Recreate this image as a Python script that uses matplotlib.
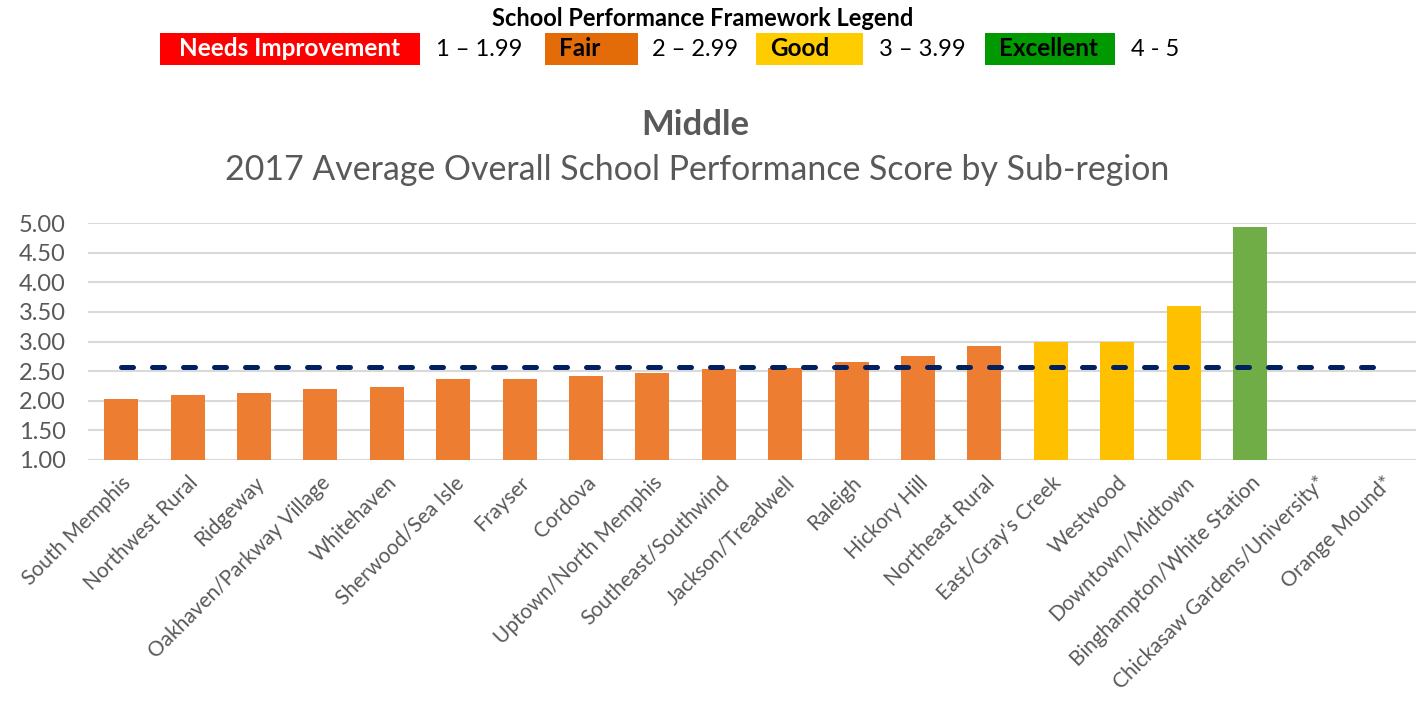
import numpy as np
import matplotlib.pyplot as plt
from matplotlib.patches import Rectangle

plt.rcParams['font.family'] = ['Lato', 'DejaVu Sans']

regions = ['South Memphis', 'Northwest Rural', 'Ridgeway', 'Oakhaven/Parkway Village',
           'Whitehaven', 'Sherwood/Sea Isle', 'Frayser', 'Cordova', 'Uptown/North Memphis',
           'Southeast/Southwind', 'Jackson/Treadwell', 'Raleigh', 'Hickory Hill',
           'Northeast Rural', "East/Gray's Creek", 'Westwood', 'Downtown/Midtown',
           'Binghampton/White Station', 'Chickasaw Gardens/University*', 'Orange Mound*']
scores = [2.03, 2.10, 2.13, 2.19, 2.23, 2.36, 2.37, 2.41, 2.47,
          2.54, 2.56, 2.65, 2.76, 2.92, 3.00, 3.00, 3.60, 4.94, np.nan, np.nan]
average = 2.57

legend_names = ['Needs Improvement', 'Fair', 'Good', 'Excellent']
legend_ranges = ['1 – 1.99', '2 – 2.99', '3 – 3.99', '4 - 5']

gray = '#595959'


def bar_color(v):
    if v >= 4:
        return '#70AD47'
    if v >= 3:
        return '#FFC000'
    return '#ED7D31'


fig = plt.figure(figsize=(14.22, 7.11), dpi=100)
ax = fig.add_axes([88 / 1422, 1 - 460 / 711, (1416 - 88) / 1422, (460 - 223) / 711])

x = np.arange(len(regions))
vals = np.array(scores)
colors = [bar_color(v) if not np.isnan(v) else 'none' for v in vals]
ax.bar(x, np.nan_to_num(vals - 1), bottom=1, width=0.51, color=colors, zorder=2)
ax.plot(x, [average] * len(x), color='#002060', lw=3.6, dashes=(2.4, 3.8),
        dash_capstyle='round', zorder=3)

ax.set_ylim(1, 5)
ax.set_xlim(-0.5, len(regions) - 0.5)
ax.set_yticks(np.arange(1, 5.01, 0.5))
ax.set_yticklabels([f'{t:.2f}' for t in np.arange(1, 5.01, 0.5)])
ax.grid(axis='y', color='#D9D9D9', lw=1.5, zorder=0)
for s in ax.spines.values():
    s.set_visible(False)
ax.tick_params(axis='both', length=0, labelsize=15, labelcolor=gray)
ax.tick_params(axis='y', labelsize=17, pad=16)
ax.set_xticks(x)
ax.set_xticklabels(regions, rotation=45, ha='right', va='top', rotation_mode='anchor')
ax.tick_params(axis='x', pad=9)

fig.text(0.489, 1 - 125 / 711, 'Middle', ha='center', va='center', fontsize=25,
         fontweight='bold', color=gray)
fig.text(0.49, 1 - 170 / 711, '2017 Average Overall School Performance Score by Sub-region',
         ha='center', va='center', fontsize=24.4, color=gray)

# legend banner
fig.text(703 / 1422, 1 - 18 / 711, 'School Performance Framework Legend', ha='center',
         va='center', fontsize=17, fontweight='bold', color='black')
boxes = [(160, 420, '#FF0000', 'white'), (545, 638, '#E36C09', 'black'),
         (756, 863, '#FFCC00', 'black'), (985, 1115, '#009900', 'black')]
range_x = [479, 695, 922, 1155]
for (x0, x1, fc, tc), name, rng, rx in zip(boxes, legend_names, legend_ranges, range_x):
    fig.patches.append(Rectangle((x0 / 1422, 1 - 65 / 711), (x1 - x0) / 1422, 32 / 711,
                                 transform=fig.transFigure, facecolor=fc, edgecolor='none'))
    if name == 'Needs Improvement':
        fig.text((x0 + x1) / 2 / 1422, 1 - 49 / 711, name, ha='center', va='center',
                 fontsize=17.5, fontweight='bold', color=tc)
    else:
        fig.text((x0 + 14) / 1422, 1 - 49 / 711, name, ha='left', va='center',
                 fontsize=17.5, fontweight='bold', color=tc)
    fig.text(rx / 1422, 1 - 49 / 711, rng, ha='center', va='center', fontsize=17, color='black')

fig.savefig('out.png', dpi=100)
